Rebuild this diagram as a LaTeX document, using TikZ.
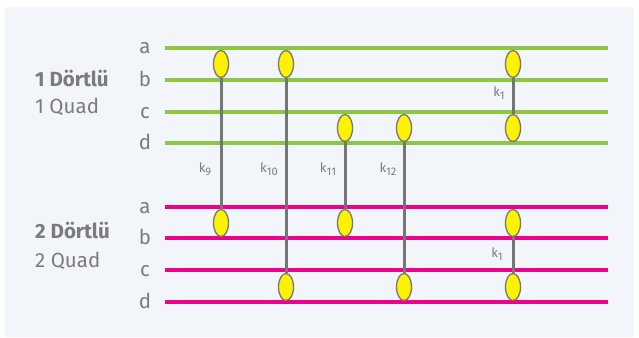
\documentclass[tikz,border=0pt]{standalone}
\usepackage{fontspec}
\setmainfont{Fira Sans}
\usetikzlibrary{shapes.geometric,backgrounds}
\definecolor{bgc}{HTML}{F2F5FA}
\definecolor{grn}{HTML}{8DC63F}
\definecolor{pnk}{HTML}{EC008C}
\definecolor{ylw}{HTML}{FFF200}
\definecolor{txt}{HTML}{7B7B7B}
\definecolor{strk}{HTML}{767676}
\newcommand{\ksub}[1]{k\raisebox{-3.5pt}{\fontsize{11}{12}\selectfont #1}}
\begin{document}
\begin{tikzpicture}[x=1pt,y=-1pt,
  gline/.style={line width=3.6pt,grn},
  pline/.style={line width=3.6pt,pnk},
  bead/.style={ellipse,draw=strk,line width=1.3pt,fill=ylw,minimum width=15pt,minimum height=27pt,inner sep=0pt},
  link/.style={strk,line width=3pt},
  letter/.style={anchor=base,text=txt,font=\fontsize{20.5}{21}\selectfont,inner sep=0pt},
  grp/.style={anchor=base west,text=txt,font=\fontsize{20.5}{21}\selectfont,inner sep=0pt},
  grpb/.style={grp,font=\fontsize{20.5}{21}\selectfont\bfseries},
  klab/.style={anchor=base,text=txt,font=\fontsize{13}{14}\selectfont,inner sep=0pt}]
\useasboundingbox (0,0) rectangle (639,337);
\fill[bgc] (5,7) rectangle (634,337);
% staff lines
\foreach \n/\y in {a/48,b/80,c/112,d/143}{
  \coordinate (g\n l) at (165,\y); \coordinate (g\n r) at (608,\y);
  \draw[gline] (g\n l) -- (g\n r);
  \node[letter] (gt\n) at (145,\y+6) {\n};
}
\foreach \n/\y in {a/207,b/238,c/270,d/302}{
  \coordinate (p\n l) at (165,\y); \coordinate (p\n r) at (608,\y);
  \draw[pline] (p\n l) -- (p\n r);
  \node[letter] (pt\n) at (145,\y+6) {\n};
}
% group labels
\node[grpb] (q1a) at (35,86) {1 Dörtlü};
\node[grp] (q1b) at (35,113) {1 Quad};
\node[grpb] (q2a) at (35,238) {2 Dörtlü};
\node[grp] (q2b) at (35,267) {2 Quad};
% beads top
\node[bead] (t9) at (221,64) {};
\node[bead] (t10) at (286,64) {};
\node[bead] (t11) at (345,128) {};
\node[bead] (t12) at (404,128) {};
\node[bead] (t1a) at (513,64) {};
\node[bead] (t1b) at (513,128) {};
% beads bottom
\node[bead] (b9) at (221,223) {};
\node[bead] (b10) at (286,287) {};
\node[bead] (b11) at (345,223) {};
\node[bead] (b12) at (404,287) {};
\node[bead] (b1a) at (513,223) {};
\node[bead] (b1b) at (513,287) {};
% links
\draw[link] (t9.south) -- (b9.north);
\draw[link] (t10.south) -- (b10.north);
\draw[link] (t11.south) -- (b11.north);
\draw[link] (t12.south) -- (b12.north);
\draw[link] (t1a.south) -- (t1b.north);
\draw[link] (b1a.south) -- (b1b.north);
% labels
\node[klab] (k9) at (205,172) {\ksub{9}};
\node[klab] (k10) at (269,172) {\ksub{10}};
\node[klab] (k11) at (328,172) {\ksub{11}};
\node[klab] (k12) at (388,172) {\ksub{12}};
\node[klab] (k1a) at (499,96) {\ksub{1}};
\node[klab] (k1b) at (497,257) {\ksub{1}};
\end{tikzpicture}
\end{document}
